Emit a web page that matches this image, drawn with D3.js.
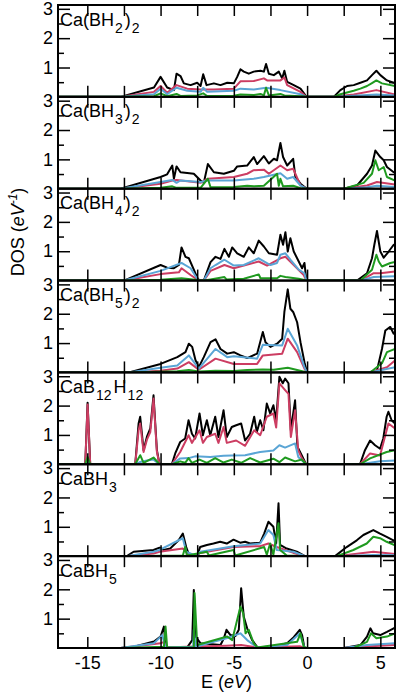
<!DOCTYPE html>
<html>
<head>
<meta charset="utf-8">
<script src="https://cdnjs.cloudflare.com/ajax/libs/d3/7.8.5/d3.min.js"></script>
<style>
body { margin: 0; background: #fff; }
svg { display: block; font-family: "Liberation Sans", Arial, sans-serif; }
</style>
</head>
<body>
<script>
const WIDTH = 397;
const HEIGHT = 696;
const LEFT = 58;
const RIGHT = 395;
const TOP = 5;
const BOTTOM = 648;
const N_PANELS = 7;
const PANEL_H = (BOTTOM - TOP) / N_PANELS;

const X_MIN = -17, X_MAX = 6;
const Y_MAX = 3.13;

var xTicks = [-15, -12.5, -10, -7.5, -5, -2.5, 0, 2.5, 5];
var yMajorTicks = [1, 2, 3];
var yMinorTicks = [0.5, 1.5, 2.5];

var colors = ['#000000', '#cc3d62', '#5aa5d5', '#1f9a1f'];

// panel titles: [text, isSubscript]
var title_caBH2_2 = [['Ca(BH', 0], ['2', 1], [')', 0], ['2', 1]];
var title_caBH3_2 = [['Ca(BH', 0], ['3', 1], [')', 0], ['2', 1]];
var title_caBH4_2 = [['Ca(BH', 0], ['4', 1], [')', 0], ['2', 1]];
var title_caBH5_2 = [['Ca(BH', 0], ['5', 1], [')', 0], ['2', 1]];
var title_caB12H12 = [['CaB', 0], ['12', 1], ['H', 0], ['12', 1]];
var title_caBH3 = [['CaBH', 0], ['3', 1]];
var title_caBH5 = [['CaBH', 0], ['5', 1]];

// [E (eV), DOS (1/eV)]
var caBH2_2_total = [[-17,0],[-12.73,0],[-10.45,0.32],[-10,0.68],[-9.55,0.32],[-9.09,0.23],[-8.91,0.79],[-8.64,0.71],[-8.41,0.46],[-7.95,0.40],[-7.5,0.48],[-7.27,0.37],[-7.09,0.77],[-6.86,0.40],[-6.36,0.46],[-5.91,0.40],[-5.45,0.48],[-5,0.46],[-4.77,0.68],[-4.55,0.94],[-4.32,0.86],[-3.98,0.79],[-3.64,0.86],[-3.18,0.89],[-2.95,0.86],[-2.8,1.12],[-2.61,0.79],[-2.27,0.74],[-1.93,0.86],[-1.7,0.63],[-1.55,0.89],[-1.36,0.51],[-0.91,0.40],[-0.45,0.28],[-0.11,0.05],[0,0],[1.82,0],[2.27,0.23],[2.73,0.37],[3.18,0.40],[3.64,0.48],[4.09,0.56],[4.43,0.74],[4.73,0.89],[5,0.74],[5.45,0.56],[5.91,0.48],[6,0.47]];
var caBH2_2_red = [[-17,0],[-12.73,0],[-10.45,0.17],[-10,0.37],[-9.55,0.14],[-8.91,0.40],[-8.18,0.28],[-7.27,0.25],[-6.36,0.25],[-5,0.28],[-4.55,0.53],[-3.64,0.54],[-2.95,0.63],[-2.73,0.56],[-1.82,0.56],[-1.55,0.66],[-1.36,0.40],[-0.45,0.17],[-0.05,0],[1.82,0],[3.18,0.08],[4.73,0.23],[6,0.08]];
var caBH2_2_blue = [[-17,0],[-12.73,0],[-10.45,0.09],[-10,0.28],[-9.55,0.09],[-8.91,0.31],[-8.18,0.21],[-7.27,0.17],[-7.09,0.31],[-6.82,0.17],[-5,0.21],[-4.55,0.28],[-3.64,0.25],[-2.8,0.31],[-1.82,0.23],[-0.45,0.09],[-0.05,0],[1.82,0],[3.18,0.04],[4.73,0.08],[6,0.05]];
var caBH2_2_green = [[-17,0],[-12.73,0],[-10.45,0.02],[-10,0.12],[-9.55,0.02],[-8.91,0.1],[-8.64,0.03],[-7.5,0.05],[-7.09,0.12],[-6.82,0.03],[-5,0.04],[-4.55,0.08],[-3.64,0.06],[-3.18,0.1],[-2.95,0.05],[-2.8,0.31],[-2.61,0.05],[-1.82,0.1],[-1.55,0.05],[-0.45,0.02],[0,0],[1.82,0],[2.27,0.09],[3.18,0.21],[3.64,0.28],[4.09,0.37],[4.43,0.47],[4.73,0.56],[5.11,0.46],[6,0.37]];

var caBH3_2_total = [[-17,0],[-12.73,0],[-10,0.40],[-9.55,0.49],[-9.2,0.79],[-9.09,0.34],[-8.91,0.76],[-8.64,0.56],[-7.73,0.51],[-7.27,0.28],[-7.05,0.20],[-6.77,0.84],[-6.36,0.56],[-5.68,0.51],[-5,0.61],[-4.77,0.76],[-4.09,0.79],[-3.64,1.08],[-3.41,0.84],[-2.95,1.11],[-2.61,0.86],[-2.27,1.02],[-2.05,0.97],[-1.82,1.56],[-1.64,1.08],[-1.36,0.79],[-1.14,0.91],[-0.95,1.02],[-0.8,0.40],[-0.45,0.17],[-0.11,0.03],[0,0],[2.5,0],[3.41,0.11],[4.09,0.51],[4.43,0.79],[4.66,1.30],[5,1.08],[5.23,0.97],[5.45,0.74],[5.91,0.56],[6,0.55]];
var caBH3_2_red = [[-17,0],[-12.73,0],[-10,0.17],[-9.2,0.28],[-8.91,0.30],[-7.27,0.20],[-6.77,0.34],[-5,0.40],[-4.09,0.51],[-3.64,0.63],[-2.95,0.65],[-2.61,0.51],[-1.82,0.79],[-1.36,0.63],[-0.95,0.68],[-0.45,0.11],[-0.05,0],[2.5,0],[4.09,0.11],[4.77,0.23],[6,0.14]];
var caBH3_2_blue = [[-17,0],[-12.73,0],[-10,0.23],[-9.2,0.30],[-8.91,0.20],[-8.64,0.28],[-7.27,0.23],[-6.77,0.28],[-5,0.28],[-3.64,0.34],[-2.95,0.40],[-1.82,0.53],[-1.36,0.34],[-0.95,0.40],[-0.45,0.11],[-0.05,0],[2.5,0],[4.09,0.05],[4.77,0.1],[6,0.06]];
var caBH3_2_green = [[-17,0],[-12.73,0],[-10,0.03],[-9.2,0.08],[-8.91,0.03],[-7.27,0.03],[-6.77,0.34],[-6.59,0.05],[-5,0.06],[-4.09,0.1],[-3.64,0.08],[-2.95,0.1],[-2.05,0.51],[-1.93,0.1],[-1.82,0.34],[-1.64,0.08],[-0.95,0.1],[-0.45,0.02],[0,0],[2.5,0],[3.86,0.20],[4.43,0.51],[4.66,0.97],[4.89,0.63],[5.23,0.74],[5.45,0.40],[6,0.28]];

var caBH4_2_total = [[-17,0],[-12.5,0],[-10,0.53],[-9.55,0.44],[-9.09,0.42],[-8.75,0.53],[-8.57,1.13],[-8.3,0.81],[-8.07,0.76],[-7.73,0.37],[-7.45,0.05],[-7.27,0],[-7.05,0],[-6.59,0.63],[-6.25,0.81],[-5.91,0.74],[-5.64,1.08],[-5.34,0.81],[-5.11,1.13],[-4.77,0.93],[-4.32,0.81],[-3.98,1.13],[-3.64,0.93],[-3.3,1.36],[-2.95,1.16],[-2.61,0.93],[-2.05,0.88],[-1.82,1.56],[-1.64,1.22],[-1.48,1.65],[-1.32,0.99],[-1.14,1.44],[-0.91,0.99],[-0.57,0.65],[-0.34,0.42],[-0.18,0.60],[-0.05,0],[3.41,0],[4.09,0.25],[4.43,0.76],[4.59,1.22],[4.77,1.69],[5,0.99],[5.23,0.78],[5.57,0.99],[5.91,1.22],[6,1.2]];
var caBH4_2_red = [[-17,0],[-12.5,0],[-10,0.22],[-8.75,0.28],[-8.57,0.42],[-7.95,0.19],[-7.39,0],[-7.05,0],[-6.59,0.33],[-5.64,0.53],[-5,0.42],[-3.3,0.65],[-2.73,0.51],[-1.82,0.76],[-1.48,0.81],[-0.91,0.53],[-0.23,0.19],[-0.05,0],[3.64,0],[4.55,0.25],[5,0.25],[6,0.31]];
var caBH4_2_blue = [[-17,0],[-12.5,0],[-10,0.33],[-8.57,0.60],[-7.95,0.42],[-7.45,0.02],[-7.27,0],[-7.05,0],[-6.59,0.42],[-6.25,0.53],[-5.64,0.71],[-5,0.51],[-4.32,0.53],[-3.3,0.76],[-2.5,0.53],[-2.05,0.60],[-1.82,0.88],[-1.48,0.93],[-1.14,0.71],[-0.57,0.37],[-0.18,0.25],[-0.05,0],[3.64,0],[4.55,0.12],[6,0.15]];
var caBH4_2_green = [[-17,0],[-12.5,0],[-10,0.03],[-8.57,0.08],[-7.5,0.02],[-7.27,0],[-7.05,0],[-6.59,0.04],[-5.64,0.12],[-5.5,0.04],[-4.32,0.06],[-3.3,0.21],[-3.18,0.08],[-2.05,0.08],[-1.82,0.16],[-1.48,0.12],[-0.57,0.06],[-0.05,0],[3.64,0],[4.43,0.37],[4.73,0.88],[4.89,0.65],[5.11,0.48],[5.68,0.60],[6,0.63]];

var caBH5_2_total = [[-17,0],[-12.16,0],[-10,0.29],[-8.86,0.52],[-8.3,0.69],[-8.07,0.98],[-7.84,0.87],[-7.61,0.41],[-7.39,0.18],[-7.05,0.52],[-6.59,1.03],[-6.25,1.13],[-5.91,0.80],[-5.45,0.64],[-5,0.69],[-4.55,0.58],[-4.09,0.49],[-3.41,0.64],[-3.02,1.38],[-2.84,1.03],[-2.5,0.87],[-2.05,0.98],[-1.7,1.15],[-1.55,2.06],[-1.32,2.83],[-1.14,2.17],[-0.95,2.06],[-0.68,1.71],[-0.45,1.03],[-0.18,0.35],[0,0],[4.16,0],[4.77,0.07],[5.11,0.80],[5.34,1.43],[5.68,1.55],[5.91,1.32],[6,1.3]];
var caBH5_2_red = [[-17,0],[-12.16,0],[-10,0.06],[-8.86,0.13],[-8.07,0.35],[-7.39,0.09],[-6.25,0.47],[-5,0.29],[-3.41,0.29],[-3.02,0.58],[-1.7,0.64],[-1.32,1.15],[-0.68,0.69],[-0.18,0.13],[0,0],[4.3,0],[5.45,0.18],[6,0.41]];
var caBH5_2_blue = [[-17,0],[-12.16,0],[-10,0.16],[-8.86,0.24],[-8.07,0.58],[-7.39,0.13],[-6.25,0.80],[-5.45,0.52],[-5,0.55],[-3.41,0.47],[-3.02,0.94],[-1.7,0.92],[-1.32,1.49],[-0.68,0.92],[-0.18,0.18],[0,0],[4.3,0],[6,0.18]];
var caBH5_2_green = [[-17,0],[-12.16,0],[-8.86,0.04],[-8.07,0.08],[-7.39,0.03],[-6.25,0.06],[-5,0.05],[-4.09,0.08],[-3.02,0.1],[-2.27,0.09],[-1.32,0.16],[-0.68,0.08],[0,0],[4.3,0],[5.11,0.31],[5.45,0.69],[6,0.80]];

var caB12H12_total = [[-17,0],[-15.14,0],[-14.98,2.1],[-14.8,0],[-11.73,0],[-11.5,1.39],[-11.39,1.62],[-11.16,0.48],[-10.93,0.94],[-10.7,1.22],[-10.48,2.35],[-10.25,0.48],[-10.07,0],[-9.23,0],[-9,0.37],[-8.66,0.76],[-8.32,0.88],[-8.09,1.50],[-7.86,1.04],[-7.64,0.88],[-7.34,1.73],[-7.11,0.99],[-6.84,1.50],[-6.61,0.99],[-6.27,1.62],[-6.05,0.93],[-5.7,1.84],[-5.48,0.93],[-5.14,1.27],[-4.84,1.33],[-4.5,1.39],[-4.23,0.81],[-3.89,1.04],[-3.61,1.62],[-3.43,1.10],[-3.2,1.50],[-2.98,1.16],[-2.75,2.07],[-2.52,1.73],[-2.3,2.01],[-2.11,1.50],[-1.89,2.98],[-1.66,2.76],[-1.5,2.92],[-1.27,2.76],[-1.11,1.16],[-0.82,2.18],[-0.66,0.60],[-0.36,0.30],[-0.07,0],[3.61,0],[3.95,0.48],[4.3,0.81],[4.64,0.65],[4.98,0.53],[5.2,0.88],[5.43,1.62],[5.55,1.79],[5.77,1.50],[6,1.39]];
var caB12H12_red = [[-17,0],[-15.14,0],[-14.98,2.04],[-14.8,0],[-11.73,0],[-11.5,1.16],[-11.39,1.39],[-11.16,0.42],[-10.93,0.84],[-10.7,1.10],[-10.48,2.24],[-10.25,0.42],[-10.07,0],[-9.23,0],[-8.66,0.42],[-8.09,0.99],[-7.86,0.73],[-7.34,1.16],[-7.11,0.73],[-6.84,0.93],[-6.27,1.04],[-6.05,0.73],[-5.7,1.27],[-5.48,0.73],[-4.84,0.81],[-4.23,0.63],[-3.61,1.16],[-3.2,0.99],[-2.75,1.62],[-2.3,1.73],[-2.11,1.25],[-1.89,2.76],[-1.5,2.53],[-1.27,2.40],[-1.11,0.93],[-0.82,1.84],[-0.6,0.47],[-0.36,0.21],[-0.07,0],[3.61,0],[4.3,0.37],[4.98,0.30],[5.55,1.39],[6,1.22]];
var caB12H12_blue = [[-17,0],[-15.14,0],[-14.98,0.05],[-14.8,0],[-11.73,0],[-11.39,0.08],[-10.93,0.13],[-10.48,0.16],[-10.07,0],[-9.23,0],[-8.66,0.20],[-8.09,0.21],[-7.64,0.27],[-6.61,0.25],[-5.7,0.29],[-5.14,0.30],[-4.23,0.31],[-3.2,0.42],[-2.3,0.47],[-1.89,0.65],[-1.5,0.57],[-0.82,0.71],[-0.6,0.25],[-0.07,0],[3.61,0],[4.98,0.1],[6,0.13]];
var caB12H12_green = [[-17,0],[-15.14,0],[-14.98,0.25],[-14.8,0],[-11.73,0],[-11.39,0.31],[-11.16,0.05],[-10.48,0.23],[-10.07,0],[-9.23,0],[-8.66,0.1],[-8.32,0.05],[-8.09,0.21],[-7.86,0.05],[-7.34,0.16],[-6.84,0.05],[-6.27,0.21],[-5.7,0.06],[-5.14,0.16],[-4.5,0.05],[-3.89,0.21],[-3.2,0.06],[-2.3,0.19],[-1.89,0.07],[-1.5,0.23],[-0.82,0.1],[-0.36,0.16],[-0.07,0],[3.61,0],[4.3,0.20],[5.43,0.42],[6,0.48]];

var caBH3_total = [[-17,0],[-12.3,0],[-11.84,0.15],[-10.48,0.21],[-10.07,0.29],[-9.8,0.21],[-9.34,0.26],[-8.77,0.54],[-8.48,0.77],[-8.25,0.31],[-8.09,0.09],[-7.86,0.03],[-7.52,0],[-7.3,0.31],[-6.84,0.38],[-6.39,0.43],[-5.93,0.49],[-5.48,0.43],[-5.02,0.56],[-4.57,0.46],[-4.23,0.49],[-3.89,0.43],[-3.2,0.46],[-2.93,0.77],[-2.64,1.17],[-2.3,1.0],[-2.11,0.43],[-1.95,1.80],[-1.84,0.38],[-1.39,0.26],[-0.7,0.15],[-0.14,0],[1.91,0],[2.7,0.31],[3.39,0.54],[3.84,0.72],[4.52,0.89],[4.98,0.77],[5.43,0.66],[5.89,0.54],[6,0.52]];
var caBH3_red = [[-17,0],[-12.3,0],[-10.48,0.09],[-10.07,0.15],[-8.48,0.26],[-8.09,0.05],[-7.52,0],[-7.3,0.11],[-5.02,0.31],[-3.2,0.34],[-2.64,0.43],[-2.07,0.31],[-0.93,0.11],[-0.14,0],[2.02,0],[4.52,0.15],[6,0.07]];
var caBH3_blue = [[-17,0],[-12.3,0],[-10.48,0.15],[-10.07,0.21],[-8.48,0.61],[-8.25,0.15],[-7.52,0],[-7.3,0.15],[-5.93,0.26],[-5.02,0.34],[-3.2,0.43],[-2.64,0.89],[-2.3,0.72],[-2.07,0.21],[-0.93,0.15],[-0.14,0],[2.02,0],[4.52,0.04],[6,0.03]];
var caBH3_green = [[-17,0],[-12.3,0],[-8.48,0.02],[-8.32,0.31],[-8.2,0.02],[-6.84,0.15],[-6.7,0.02],[-5.02,0.21],[-4.9,0.02],[-2.93,0.31],[-2.75,0.05],[-2.52,0.43],[-2.3,0.05],[-1.95,1.12],[-1.84,0.21],[-1.39,0.02],[-0.14,0],[2.02,0],[3.16,0.21],[4.07,0.43],[4.52,0.66],[4.98,0.61],[5.43,0.49],[6,0.37]];

var caBH5_total = [[-17,0],[-12.73,0],[-11.82,0.04],[-10.45,0.22],[-10,0.39],[-9.77,0.73],[-9.66,0.1],[-9.55,0.02],[-8.18,0.02],[-7.84,0.27],[-7.73,1.98],[-7.61,0.39],[-7.27,0.16],[-5.91,0.1],[-5.68,0.33],[-5.5,0.62],[-5.23,0.44],[-4.89,0.41],[-4.66,0.62],[-4.5,2.04],[-4.32,1.06],[-4.09,0.67],[-3.75,0.27],[-3.41,0.04],[-3.18,0],[-2.5,0.02],[-1.36,0.16],[-0.91,0.37],[-0.5,0.62],[-0.34,0.44],[-0.18,0],[2.5,0],[3.64,0.1],[4.09,0.39],[4.32,0.67],[4.5,0.50],[5,0.44],[5.45,0.55],[5.91,0.67],[6,0.68]];
var caBH5_red = [[-17,0],[-12.73,0],[-10,0.16],[-9.77,0.21],[-9.6,0.02],[-7.73,0.05],[-5.5,0.08],[-4.5,0.1],[-3.41,0.02],[-0.5,0.06],[-0.18,0],[2.5,0],[4.32,0.06],[6,0.1]];
var caBH5_blue = [[-17,0],[-12.73,0],[-10.45,0.16],[-9.89,0.44],[-9.66,0.02],[-7.77,0.04],[-7.73,0.62],[-7.61,0.04],[-5.5,0.33],[-4.55,0.50],[-4.09,0.27],[-3.41,0.02],[-1.36,0.1],[-0.5,0.50],[-0.18,0],[2.5,0],[4.09,0.1],[6,0.16]];
var caBH5_green = [[-17,0],[-12.73,0],[-9.77,0.04],[-9.66,0.73],[-9.55,0.02],[-7.73,0.02],[-7.68,1.87],[-7.5,0.1],[-5.45,0.39],[-5.11,0.27],[-4.55,1.41],[-4.36,1.18],[-4.2,0.50],[-3.98,0.62],[-3.64,0.16],[-3.4,0.02],[-0.68,0.21],[-0.45,0.50],[-0.23,0.04],[0,0],[3.18,0],[4.09,0.21],[4.36,0.50],[4.73,0.33],[5.45,0.39],[6,0.50]];

var panels = [
	{title: title_caBH2_2, series: [caBH2_2_total, caBH2_2_red, caBH2_2_blue, caBH2_2_green]},
	{title: title_caBH3_2, series: [caBH3_2_total, caBH3_2_red, caBH3_2_blue, caBH3_2_green]},
	{title: title_caBH4_2, series: [caBH4_2_total, caBH4_2_red, caBH4_2_blue, caBH4_2_green]},
	{title: title_caBH5_2, series: [caBH5_2_total, caBH5_2_red, caBH5_2_blue, caBH5_2_green]},
	{title: title_caB12H12, series: [caB12H12_total, caB12H12_red, caB12H12_blue, caB12H12_green]},
	{title: title_caBH3, series: [caBH3_total, caBH3_red, caBH3_blue, caBH3_green]},
	{title: title_caBH5, series: [caBH5_total, caBH5_red, caBH5_blue, caBH5_green]}
];

var svg = d3.select('body').append('svg')
	.attr('width', WIDTH)
	.attr('height', HEIGHT);

var xScale = d3.scaleLinear()
	.domain([X_MIN, X_MAX])
	.range([LEFT, RIGHT]);

var styleAxis = function(g){
	g.select('.domain').remove();
	g.selectAll('.tick line').attr('stroke', '#000').attr('stroke-width', 1.5);
	g.selectAll('.tick text').attr('fill', '#000').attr('font-size', 18)
		.attr('font-family', '"Liberation Sans", Arial, sans-serif');
};

panels.forEach(function(p, i){
	var top = TOP + i*PANEL_H;
	var bottom = top + PANEL_H;
	var yScale = d3.scaleLinear().domain([0, Y_MAX]).range([bottom, top]);
	var g = svg.append('g').classed('panel', true);

	g.append('clipPath').attr('id', 'clip' + i)
		.append('rect')
		.attr('x', LEFT).attr('y', top)
		.attr('width', RIGHT - LEFT).attr('height', PANEL_H);

	var line = d3.line()
		.x(function(d){ return xScale(d[0]); })
		.y(function(d){ return yScale(d[1]); });

	g.append('g').attr('clip-path', 'url(#clip' + i + ')')
		.selectAll('path')
		.data(p.series)
		.enter().append('path')
		.attr('d', line)
		.attr('fill', 'none')
		.attr('stroke', function(d, k){ return colors[k]; })
		.attr('stroke-width', 2)
		.attr('stroke-linejoin', 'round');

	// x ticks, top and bottom, pointing in
	g.append('g')
		.attr('transform', 'translate(0,' + top + ')')
		.call(d3.axisTop(xScale).tickValues(xTicks).tickSize(-11).tickFormat(''))
		.call(styleAxis);
	var xb = d3.axisBottom(xScale).tickValues(xTicks).tickSize(-11).tickPadding(8)
		.tickFormat(function(d){ return (i == N_PANELS - 1 && d % 5 == 0) ? String(d) : ''; });
	g.append('g')
		.attr('transform', 'translate(0,' + bottom + ')')
		.call(xb)
		.call(styleAxis);

	// y ticks left (labelled) and right
	g.append('g')
		.attr('transform', 'translate(' + LEFT + ',0)')
		.call(d3.axisLeft(yScale).tickValues(yMajorTicks).tickSize(-12).tickPadding(5).tickFormat(String))
		.call(styleAxis);
	g.append('g')
		.attr('transform', 'translate(' + LEFT + ',0)')
		.call(d3.axisLeft(yScale).tickValues(yMinorTicks).tickSize(-6).tickFormat(''))
		.call(styleAxis);
	g.append('g')
		.attr('transform', 'translate(' + RIGHT + ',0)')
		.call(d3.axisRight(yScale).tickValues(yMajorTicks).tickSize(-12).tickFormat(''))
		.call(styleAxis);
	g.append('g')
		.attr('transform', 'translate(' + RIGHT + ',0)')
		.call(d3.axisRight(yScale).tickValues(yMinorTicks).tickSize(-6).tickFormat(''))
		.call(styleAxis);

	g.append('rect')
		.attr('x', LEFT).attr('y', top)
		.attr('width', RIGHT - LEFT).attr('height', PANEL_H)
		.attr('fill', 'none')
		.attr('stroke', '#000')
		.attr('stroke-width', 2);

	var t = g.append('text')
		.attr('x', 60)
		.attr('y', top + 20.5)
		.attr('font-size', 18)
		.attr('fill', '#000');
	var shifted = false;
	p.title.forEach(function(part){
		var ts = t.append('tspan').text(part[0]);
		if (part[1]) {
			ts.attr('font-size', 14).attr('dx', 1);
			if (!shifted) { ts.attr('dy', 7); shifted = true; }
		} else if (shifted) {
			ts.attr('dy', -7).attr('dx', 2);
			shifted = false;
		}
	});
});

// axis titles
var xl = svg.append('text')
	.attr('x', (LEFT + RIGHT)/2)
	.attr('y', 688)
	.attr('text-anchor', 'middle')
	.attr('font-size', 18);
xl.append('tspan').text('E (');
xl.append('tspan').attr('font-style', 'italic').text('eV');
xl.append('tspan').text(')');

var yl = svg.append('text')
	.attr('transform', 'translate(24,232) rotate(-90)')
	.attr('text-anchor', 'middle')
	.attr('font-size', 18);
yl.append('tspan').text('DOS (');
yl.append('tspan').attr('font-style', 'italic').text('eV');
yl.append('tspan').attr('font-style', 'italic').attr('font-size', 12).attr('dy', -7).text('-1');
yl.append('tspan').attr('dy', 7).text(')');
</script>
</body>
</html>
